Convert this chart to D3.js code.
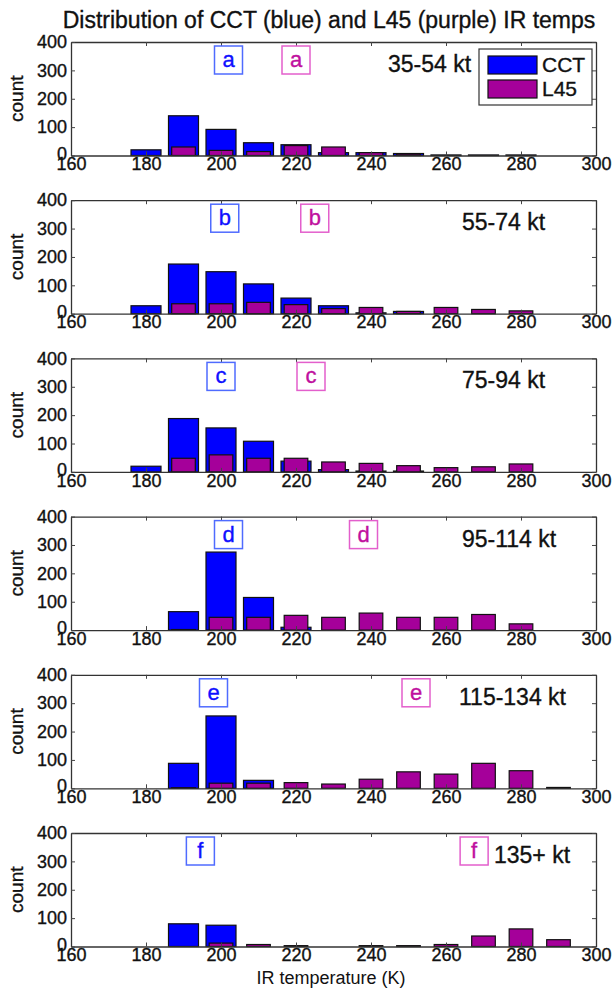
<!DOCTYPE html>
<html>
<head>
<meta charset="utf-8">
<script src="https://cdn.jsdelivr.net/npm/d3@7"></script>
<style>
  body { margin: 0; background: #fff; }
  svg { display: block; font-family: "Liberation Sans", Arial, sans-serif; }
  .heavy { stroke: currentColor; stroke-width: 0.35; }
</style>
</head>
<body>
<svg id="chart" width="613" height="996"></svg>
<script>
// histogram bin centres (K)
var bins = [180, 190, 200, 210, 220, 230, 240, 250, 260, 270, 280, 290];

// one row per intensity class
var panelNames = ["35-54 kt", "55-74 kt", "75-94 kt", "95-114 kt", "115-134 kt", "135+ kt"];
var cctCounts = [
  [20, 140, 92, 45, 38, 10, 10, 7, 2, 2, 2, 0],
  [28, 175, 148, 105, 55, 28, 3, 8, 0, 0, 0, 0],
  [20, 188, 155, 108, 38, 8, 3, 3, 0, 0, 0, 0],
  [0, 65, 275, 115, 10, 0, 0, 0, 0, 0, 0, 0],
  [0, 88, 255, 28, 0, 0, 0, 0, 0, 0, 0, 0],
  [0, 80, 75, 0, 0, 0, 0, 0, 0, 0, 0, 0]
];
var l45Counts = [
  [0, 30, 18, 14, 35, 30, 10, 5, 0, 0, 0, 0],
  [0, 35, 35, 40, 32, 18, 22, 8, 22, 15, 10, 0],
  [0, 48, 60, 48, 48, 35, 30, 22, 15, 18, 28, 0],
  [0, 2, 45, 45, 52, 45, 60, 45, 45, 55, 22, 0],
  [0, 2, 18, 18, 20, 15, 32, 58, 50, 88, 62, 3],
  [0, 0, 12, 7, 3, 0, 3, 3, 7, 37, 62, 24]
];
// letter markers (mean temps)
var letters = ["a", "b", "c", "d", "e", "f"];
var cctMean = [202, 201, 200, 202, 198, 194.5];
var l45Mean = [220, 225, 224, 238, 252, 267.5];

var xTicks = [160, 180, 200, 220, 240, 260, 280, 300];
var yTicks = [0, 100, 200, 300, 400];

// layout
var left = 71, right = 596;
var top0 = 42, step = 158.2, ph = 113.5;
var labelX = [388, 462, 462, 462, 459, 494];

var blue = "#0000ff", purple = "#a5009a";

var svg = d3.select("#chart");

var x = d3.scaleLinear().domain([160, 300]).range([left, right]);
var bw = x(168) - x(160);      // CCT bar width (8 K)
var pw = x(166.3) - x(160);    // L45 bar width

svg.append("text")
   .attr("class", "heavy")
   .attr("x", 329)
   .attr("y", 28)
   .attr("text-anchor", "middle")
   .attr("font-size", 23)
   .attr("fill", "#111")
   .style("color", "#111")
   .text("Distribution of CCT (blue) and L45 (purple) IR temps");

panelNames.forEach(function(name, i) {
  var top = top0 + i * step;
  var y = d3.scaleLinear().domain([0, 400]).range([top + ph, top]);
  var g = svg.append("g");

  // CCT bars first, L45 on top
  g.selectAll(".cct")
   .data(bins.map((b, j) => ({b: b, v: cctCounts[i][j]})).filter(d => d.v > 0))
   .enter().append("rect")
   .attr("x", d => x(d.b) - bw / 2)
   .attr("y", d => y(d.v))
   .attr("width", bw)
   .attr("height", d => y(0) - y(d.v))
   .attr("fill", blue)
   .attr("stroke", "#111")
   .attr("stroke-width", 1.2);

  g.selectAll(".l45")
   .data(bins.map((b, j) => ({b: b, v: l45Counts[i][j]})).filter(d => d.v > 0))
   .enter().append("rect")
   .attr("x", d => x(d.b) - pw / 2)
   .attr("y", d => y(d.v))
   .attr("width", pw)
   .attr("height", d => y(0) - y(d.v))
   .attr("fill", purple)
   .attr("stroke", "#111")
   .attr("stroke-width", 1.2);

  // axes box with inward ticks
  var axB = g.append("g").attr("transform", `translate(0,${top + ph})`)
     .call(d3.axisBottom(x).tickValues(xTicks).tickSizeInner(-4).tickSizeOuter(0).tickPadding(2));
  var axT = g.append("g").attr("transform", `translate(0,${top})`)
     .call(d3.axisTop(x).tickValues(xTicks).tickSizeInner(-4).tickSizeOuter(0).tickFormat(""));
  var axL = g.append("g").attr("transform", `translate(${left},0)`)
     .call(d3.axisLeft(y).tickValues(yTicks).tickSizeInner(-4).tickSizeOuter(0).tickPadding(4));
  var axR = g.append("g").attr("transform", `translate(${right},0)`)
     .call(d3.axisRight(y).tickValues(yTicks).tickSizeInner(-4).tickSizeOuter(0).tickFormat(""));

  [axB, axT, axL, axR].forEach(function(a) {
    a.select(".domain").attr("stroke", "#333").attr("stroke-width", 1.3);
    a.selectAll(".tick line").attr("stroke", "#444");
    a.selectAll("text").attr("font-size", 18).attr("fill", "#111")
     .attr("class", "heavy").style("color", "#111")
     .attr("font-family", "Liberation Sans, Arial, sans-serif");
  });
  // the zero label sits just above the corner
  axL.selectAll(".tick text").filter(d => d === 0).attr("dy", "0.2em");

  g.append("text")
   .attr("class", "heavy")
   .attr("transform", `translate(23,${top + ph / 2}) rotate(-90)`)
   .attr("text-anchor", "middle")
   .attr("font-size", 19)
   .attr("fill", "#111")
   .style("color", "#111")
   .text("count");

  // letter boxes
  [[cctMean[i], "#4f6bff", "#1010ff"], [l45Mean[i], "#e35fcc", "#c0109e"]].forEach(function(m) {
    var cx = x(m[0]);
    g.append("rect")
     .attr("x", cx - 14).attr("y", top + 4)
     .attr("width", 28).attr("height", 28)
     .attr("fill", "#fff")
     .attr("stroke", m[1]).attr("stroke-width", 1.5);
    g.append("text")
     .attr("class", "heavy")
     .attr("x", cx).attr("y", top + 25)
     .attr("text-anchor", "middle")
     .attr("font-size", 22)
     .attr("fill", m[2])
     .style("color", m[2])
     .text(letters[i]);
  });

  g.append("text")
   .attr("class", "heavy")
   .attr("x", labelX[i])
   .attr("y", top + 30)
   .attr("font-size", 23)
   .attr("fill", "#111")
   .style("color", "#111")
   .text(name);

  if (i === 0) {
    var lg = g.append("g");
    lg.append("rect")
      .attr("x", 479).attr("y", top + 7).attr("width", 113).attr("height", 56)
      .attr("fill", "#fff").attr("stroke", "#333").attr("stroke-width", 1.2);
    [["CCT", blue, 14], ["L45", purple, 38]].forEach(function(e) {
      lg.append("rect")
        .attr("x", 488).attr("y", top + e[2]).attr("width", 49).attr("height", 18)
        .attr("fill", e[1]).attr("stroke", "#111").attr("stroke-width", 1.2);
      lg.append("text")
        .attr("class", "heavy")
        .attr("x", 542).attr("y", top + e[2] + 16)
        .attr("font-size", 21)
        .attr("fill", "#111")
        .style("color", "#111")
        .text(e[0]);
    });
  }
});

svg.append("text")
   .attr("x", 331)
   .attr("y", 984)
   .attr("text-anchor", "middle")
   .attr("font-size", 18)
   .attr("fill", "#111")
   .text("IR temperature (K)");
</script>
</body>
</html>
